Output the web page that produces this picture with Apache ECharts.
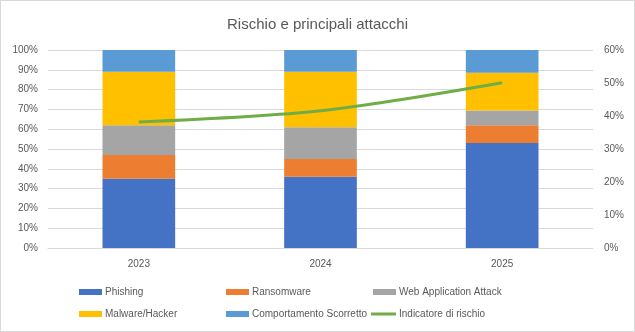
<!DOCTYPE html>
<html>
<head>
<meta charset="utf-8">
<script src="https://cdn.jsdelivr.net/npm/echarts@6/dist/echarts.min.js"></script>
<style>
html,body{margin:0;padding:0;background:#fff;}
#c{width:635px;height:332px;box-sizing:border-box;border:1px solid #d9d9d9;}
</style>
</head>
<body>
<div id="c"></div>
<script>
const categories = ['2023', '2024', '2025'];
const phishing = [35, 36, 53];
const ransomware = [12, 9, 9];
const webAttack = [15, 16, 7.5];
const malware = [27, 28, 19];
const comportamento = [11, 11, 11.5];
const indicatore = [38.2, 41.6, 50.1];
const leftTicks = [0, 10, 20, 30, 40, 50, 60, 70, 80, 90, 100];
const rightTicks = [0, 10, 20, 30, 40, 50, 60];
const seriesNames = ['Phishing', 'Ransomware', 'Web Application Attack', 'Malware/Hacker', 'Comportamento Scorretto', 'Indicatore di rischio'];

const chart = echarts.init(document.getElementById('c'));
const txt = '#595959';
const font = 'Liberation Sans';
function bar(name, data, color) {
  return {name: name, type: 'bar', stack: 'tot', data: data, barWidth: '40%',
    itemStyle: {color: color}, yAxisIndex: 0};
}
const legPos = [[78, 286], [225, 286], [372, 286], [78, 308], [225, 308], [370, 308]];
const legends = seriesNames.map(function (n, i) {
  const isLine = i === 5;
  return {left: legPos[i][0], top: legPos[i][1], padding: 0, itemGap: 0,
    itemWidth: isLine ? 25 : 23, itemHeight: isLine ? 3 : 6, selectedMode: false,
    textStyle: {color: txt, fontSize: 10, fontFamily: font, padding: [0, 0, 0, -2]},
    data: [{name: n, icon: 'rect'}]};
});
chart.setOption({
  animation: false,
  textStyle: {fontFamily: font},
  title: {text: 'Rischio e principali attacchi', left: 'center', top: 11,
    textStyle: {fontFamily: font, fontSize: 15, fontWeight: 'normal', color: txt}},
  grid: {left: 47, right: 41, top: 49, bottom: 83},
  xAxis: {type: 'category', data: categories,
    axisLine: {lineStyle: {color: '#d9d9d9'}}, axisTick: {show: false},
    axisLabel: {color: txt, fontSize: 10, margin: 11}},
  yAxis: [
    {type: 'value', min: leftTicks[0], max: leftTicks[leftTicks.length - 1], interval: 10,
      axisLabel: {color: txt, fontSize: 10, formatter: '{value}%', margin: 10},
      splitLine: {lineStyle: {color: '#d9d9d9'}}, axisLine: {show: false}, axisTick: {show: false}},
    {type: 'value', min: rightTicks[0], max: rightTicks[rightTicks.length - 1], interval: 10,
      axisLabel: {color: txt, fontSize: 10, formatter: '{value}%', margin: 11},
      splitLine: {show: false}, axisLine: {show: false}, axisTick: {show: false}}
  ],
  legend: legends,
  series: [
    bar(seriesNames[0], phishing, '#4472c4'),
    bar(seriesNames[1], ransomware, '#ed7d31'),
    bar(seriesNames[2], webAttack, '#a5a5a5'),
    bar(seriesNames[3], malware, '#ffc000'),
    bar(seriesNames[4], comportamento, '#5b9bd5'),
    {name: seriesNames[5], type: 'line', yAxisIndex: 1, data: indicatore,
      smooth: 0.3, symbol: 'none', lineStyle: {color: '#70ad47', width: 3}, itemStyle: {color: '#70ad47'}}
  ]
});
</script>
</body>
</html>
